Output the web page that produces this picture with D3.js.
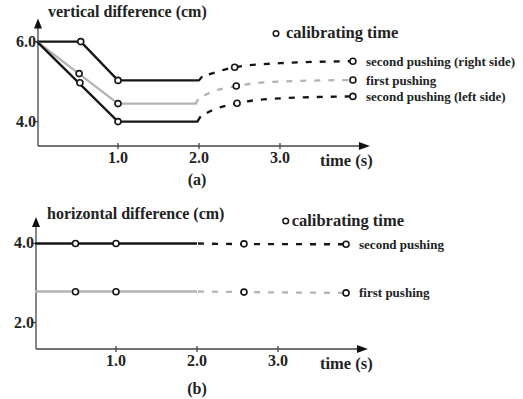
<!DOCTYPE html>
<html><head><meta charset="utf-8">
<script src="https://cdn.jsdelivr.net/npm/d3@7"></script>
<style>html,body{margin:0;padding:0;background:#fff;}svg{display:block;}text{font-family:"Liberation Serif","Times New Roman",serif;font-weight:bold;fill:#222;}</style>
</head><body><svg id="c" width="523" height="399"></svg>
<script>
// ---- data ----
const xTicks = [1.0, 2.0, 3.0];
const xTickLabels = ["1.0", "2.0", "3.0"];
const yTicksTop = [4.0, 6.0];
const yTicksBottom = [2.0, 4.0];

// panel (a): vertical difference
const rightSolid  = [[0,6.0],[0.54,6.0],[1.0,5.03],[2.0,5.03],[2.04,5.13]];
const rightDashed = [[2.04,5.13],[2.2,5.23],[2.44,5.36],[3.0,5.46],[3.9,5.51]];
const rightMarks  = [[0.54,6.0],[1.0,5.03],[2.44,5.36],[3.9,5.51]];
const firstSolid  = [[0,6.0],[1.0,4.45],[1.96,4.45],[1.99,4.56]];
const firstDashed = [[1.99,4.56],[2.12,4.71],[2.46,4.89],[3.0,5.0],[3.9,5.04]];
const firstMarks  = [[0.52,5.2],[1.0,4.45],[2.46,4.89],[3.9,5.04]];
const leftSolid   = [[0,6.0],[1.0,4.0],[1.98,4.0],[2.02,4.13]];
const leftDashed  = [[2.02,4.13],[2.15,4.27],[2.47,4.46],[3.0,4.58],[3.9,4.63]];
const leftMarks   = [[0.53,4.97],[1.0,4.0],[2.47,4.46],[3.9,4.63]];

// panel (b): horizontal difference
const secondHSolid  = [[0,4.0],[2.0,4.0]];
const secondHDashed = [[2.0,4.0],[2.58,3.985],[3.84,3.98]];
const secondHMarks  = [[0.5,4.0],[1.0,4.0],[2.58,3.99],[3.84,3.98]];
const firstHSolid   = [[0,2.785],[2.0,2.785]];
const firstHDashed  = [[2.0,2.785],[2.58,2.77],[3.84,2.75]];
const firstHMarks   = [[0.5,2.78],[1.0,2.78],[2.58,2.77],[3.84,2.75]];

const svg = d3.select("#c");
const BLACK = "#151515", GRAY = "#b3b3b3", AXIS = "#444";

function panel(cfg){
  const g = svg.append("g");
  const x = d3.scaleLinear().domain([0, 4.11]).range([cfg.x0, cfg.x0 + 4.11*81]);
  const y = d3.scaleLinear().domain(cfg.yDomain).range(cfg.yRange);
  const xAxisY = y(cfg.yDomain[0]);
  const axX = x(0) + 1;
  g.append("line").attr("x1", axX).attr("x2", x(4.11)-4).attr("y1", xAxisY).attr("y2", xAxisY)
    .attr("stroke", AXIS).attr("stroke-width", 1.3);
  g.append("line").attr("x1", axX).attr("x2", axX).attr("y1", xAxisY).attr("y2", y(cfg.yDomain[1])+4)
    .attr("stroke", AXIS).attr("stroke-width", 1.3);
  const xt = x(4.11);
  g.append("path").attr("d", `M${xt},${xAxisY} L${xt-11},${xAxisY-4} L${xt-11},${xAxisY+4} Z`).attr("fill", "#111");
  const yt = y(cfg.yDomain[1]);
  g.append("path").attr("d", `M${axX},${yt} L${axX-4},${yt+10} L${axX+4},${yt+10} Z`).attr("fill", "#111");
  xTicks.forEach((t,i) => {
    g.append("line").attr("x1", x(t)).attr("x2", x(t)).attr("y1", xAxisY-3).attr("y2", xAxisY+3)
      .attr("stroke", AXIS).attr("stroke-width", 1.3);
    g.append("text").attr("x", x(t)).attr("y", xAxisY+16.5).attr("text-anchor","middle")
      .attr("font-size", 16).text(xTickLabels[i]);
  });
  cfg.yTicks.forEach(v => {
    g.append("line").attr("x1", axX-4).attr("x2", axX).attr("y1", y(v)).attr("y2", y(v))
      .attr("stroke", AXIS).attr("stroke-width", 1.3);
    g.append("text").attr("x", axX-2).attr("y", y(v)+5).attr("text-anchor","end")
      .attr("font-size", 16).text(v.toFixed(1));
  });
  g.append("text").attr("x", cfg.titleX).attr("y", cfg.titleY).attr("font-size", 16).text(cfg.title);
  g.append("text").attr("x", 320).attr("y", xAxisY+20).attr("font-size", 16.5).text("time (s)");
  g.append("text").attr("x", 197).attr("y", cfg.capY).attr("text-anchor","middle").attr("font-size", 16).text(cfg.caption);
  g.append("circle").attr("cx", cfg.legX).attr("cy", cfg.legY).attr("r", 2.8)
    .attr("fill","#fff").attr("stroke", BLACK).attr("stroke-width", 1.5);
  g.append("text").attr("x", cfg.legX + cfg.legGap).attr("y", cfg.legY+4.5).attr("font-size", 16.5).text("calibrating time");

  const line = d3.line().x(d => x(d[0])).y(d => y(d[1]));
  const curve = d3.line().x(d => x(d[0])).y(d => y(d[1])).curve(d3.curveMonotoneX);
  cfg.series.forEach(s => {
    g.append("path").attr("d", line(s.solid)).attr("fill","none").attr("stroke", s.color)
      .attr("stroke-width", 2.3).attr("stroke-linejoin","round");
    g.append("path").attr("d", curve(s.dashed)).attr("fill","none").attr("stroke", s.color)
      .attr("stroke-width", 2.3).attr("stroke-dasharray","6,8").attr("stroke-dashoffset", s.offset);
    g.selectAll(null).data(s.marks).enter().append("circle")
      .attr("cx", d => x(d[0])).attr("cy", d => y(d[1])).attr("r", 3)
      .attr("fill","#fff").attr("stroke", BLACK).attr("stroke-width", 1.6);
    const last = s.marks[s.marks.length-1];
    g.append("text").attr("x", x(last[0]) + 13).attr("y", y(last[1]) + 4.5)
      .attr("font-size", 13).text(s.label);
  });
}

panel({
  x0: 37, yDomain: [3.39, 6.58], yRange: [146, 18.4], yTicks: yTicksTop,
  title: "vertical difference (cm)", titleX: 48, titleY: 17, caption: "(a)", capY: 185,
  legX: 276, legY: 33.5, legGap: 10,
  series: [
    {solid: rightSolid, dashed: rightDashed, marks: rightMarks, color: BLACK, label: "second pushing (right side)", offset: 7},
    {solid: firstSolid, dashed: firstDashed, marks: firstMarks, color: GRAY, label: "first pushing", offset: 7},
    {solid: leftSolid, dashed: leftDashed, marks: leftMarks, color: BLACK, label: "second pushing (left side)", offset: 7}
  ]
});

panel({
  x0: 35, yDomain: [1.33, 4.67], yRange: [349, 217], yTicks: yTicksBottom,
  title: "horizontal difference (cm)", titleX: 47, titleY: 219, caption: "(b)", capY: 394,
  legX: 285.7, legY: 221, legGap: 6,
  series: [
    {solid: secondHSolid, dashed: secondHDashed, marks: secondHMarks, color: BLACK, label: "second pushing", offset: -1},
    {solid: firstHSolid, dashed: firstHDashed, marks: firstHMarks, color: GRAY, label: "first pushing", offset: -1}
  ]
});
</script></body></html>
